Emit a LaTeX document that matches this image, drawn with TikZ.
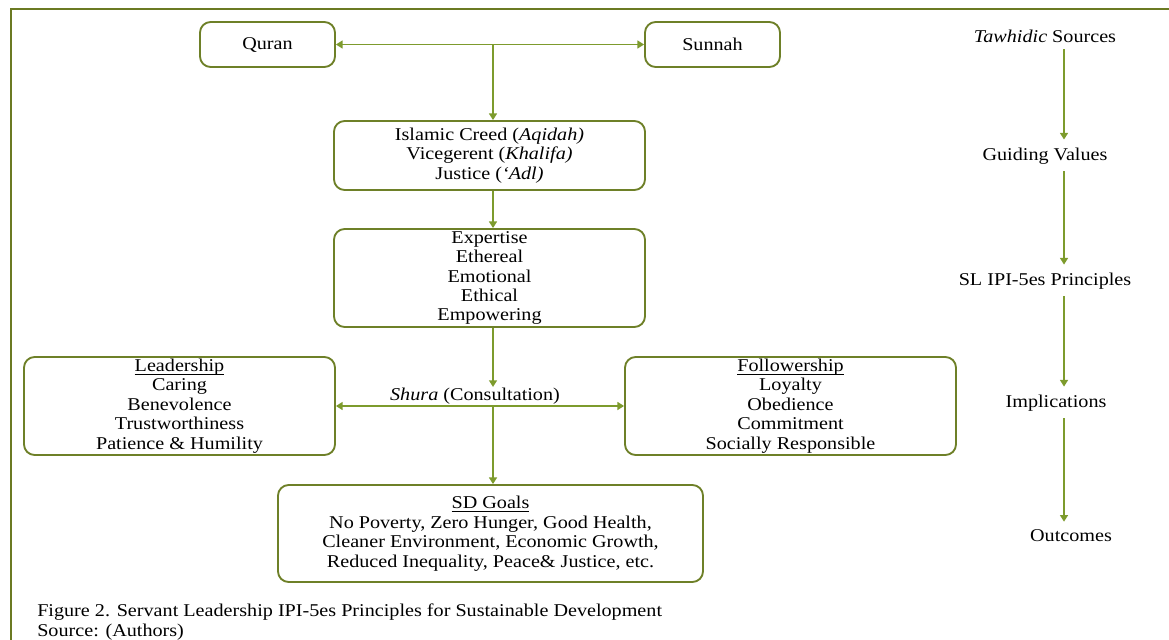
\documentclass[tikz,border=0pt]{standalone}
\usepackage{fontspec}
\setmainfont{Liberation Serif}[FakeStretch=1.12]
\usetikzlibrary{arrows.meta}
\definecolor{framegreen}{RGB}{107,122,35}
\definecolor{boxgreen}{RGB}{110,128,40}
\definecolor{arrowgreen}{RGB}{125,155,45}
\newcommand{\headline}[1]{\setbox0\hbox{#1}\rlap{\rule[-2.7pt]{\wd0}{0.6pt}}\box0}
\tikzset{
	box/.style={draw=boxgreen, line width=1.4pt, rounded corners=8pt, align=center, inner sep=0pt},
	link/.style={arrowgreen, line width=1.1pt, -{Triangle[length=5pt,width=6pt]}},
	twolink/.style={arrowgreen, line width=1.1pt, {Triangle[length=5pt,width=6pt]}-{Triangle[length=5pt,width=6pt]}},
	level/.style={inner sep=3pt}
}

\begin{document}
\begin{tikzpicture}[x=0.75pt, y=-0.75pt, font=\fontsize{13.5}{14.6}\selectfont]
			%%%%% START %%%%%
			\useasboundingbox (0, 0) rectangle (1169, 639);
			
			\draw[framegreen, line width=1.8pt] (11, 645) -- (11, 9) -- (1175, 9);
			
			\node[box, minimum width=101.25pt, minimum height=33.75pt] (quran) at (267.5, 44.5) {Quran};
			\node[box, minimum width=101.25pt, minimum height=33.75pt] (sunnah) at (712.5, 44.5) {Sunnah};
			
			\node[box, minimum width=233.25pt, minimum height=51.75pt] (creed) at (489.5, 155.5) {Islamic Creed (\textit{Aqidah)}\\Vicegerent (\textit{Khalifa)}\\Justice (\textit{‘Adl)}};
			\node[box, minimum width=233.25pt, minimum height=73.5pt] (ethos) at (489.5, 278) {Expertise\\Ethereal\\Emotional\\Ethical\\Empowering};
			
			\node[box, minimum width=233.25pt, minimum height=73.5pt] (leader) at (179.5, 406) {\headline{Leadership}\\Caring\\Benevolence\\Trustworthiness\\Patience \& Humility};
			\node[box, minimum width=248.25pt, minimum height=73.5pt] (follower) at (790.5, 406) {\headline{Followership}\\Loyalty\\Obedience\\Commitment\\Socially Responsible};
			\node[inner sep=1pt] (shura) at (475, 396) {\textit{Shura} (Consultation)};
			
			\node[box, minimum width=318.75pt, minimum height=72.75pt] (sdg) at (490.5, 533.5) {\headline{SD Goals}\\No Poverty, Zero Hunger, Good Health,\\Cleaner Environment, Economic Growth,\\Reduced Inequality, Peace\& Justice, etc.};
			
			\coordinate (qs) at (493, 44.5);
			\coordinate (hub) at (493, 406);
			
			\draw[twolink] (quran) -- (sunnah);
			\draw[link] (qs) -- (creed.north -| qs);
			\draw[link] (creed.south -| qs) -- (ethos.north -| qs);
			\draw[link] (ethos.south -| qs) -- ++(0, 59);
			\draw[twolink] (leader) -- (follower);
			\draw[link] (hub) -- (sdg.north -| hub);
			
			% right column
			\node[level] (src) at (1045, 36) {\textit{Tawhidic} Sources};
			\node[level] (val) at (1045, 156) {Guiding Values};
			\node[level] (prin) at (1045, 281) {SL IPI-5es Principles};
			\node[level] (impl) at (1056, 403) {Implications};
			\node[level] (out) at (1071, 536) {Outcomes};
			\coordinate (rx) at (1064, 0);
			
			\draw[link, shorten <=2pt, shorten >=3pt] (src.south -| rx) -- (val.north -| rx);
			\draw[link, shorten <=2pt, shorten >=3pt] (val.south -| rx) -- (prin.north -| rx);
			\draw[link, shorten <=2pt, shorten >=3pt] (prin.south -| rx) -- (impl.north -| rx);
			\draw[link, shorten <=2pt, shorten >=3pt] (impl.south -| rx) -- (out.north -| rx);
			
			\node[anchor=west, align=left, inner sep=0pt] (cap) at (37, 622) {Figure 2. Servant Leadership IPI-5es Principles for Sustainable Development\\Source: (Authors)};
			
			%%%%% END %%%%%
\end{tikzpicture}
\end{document}
